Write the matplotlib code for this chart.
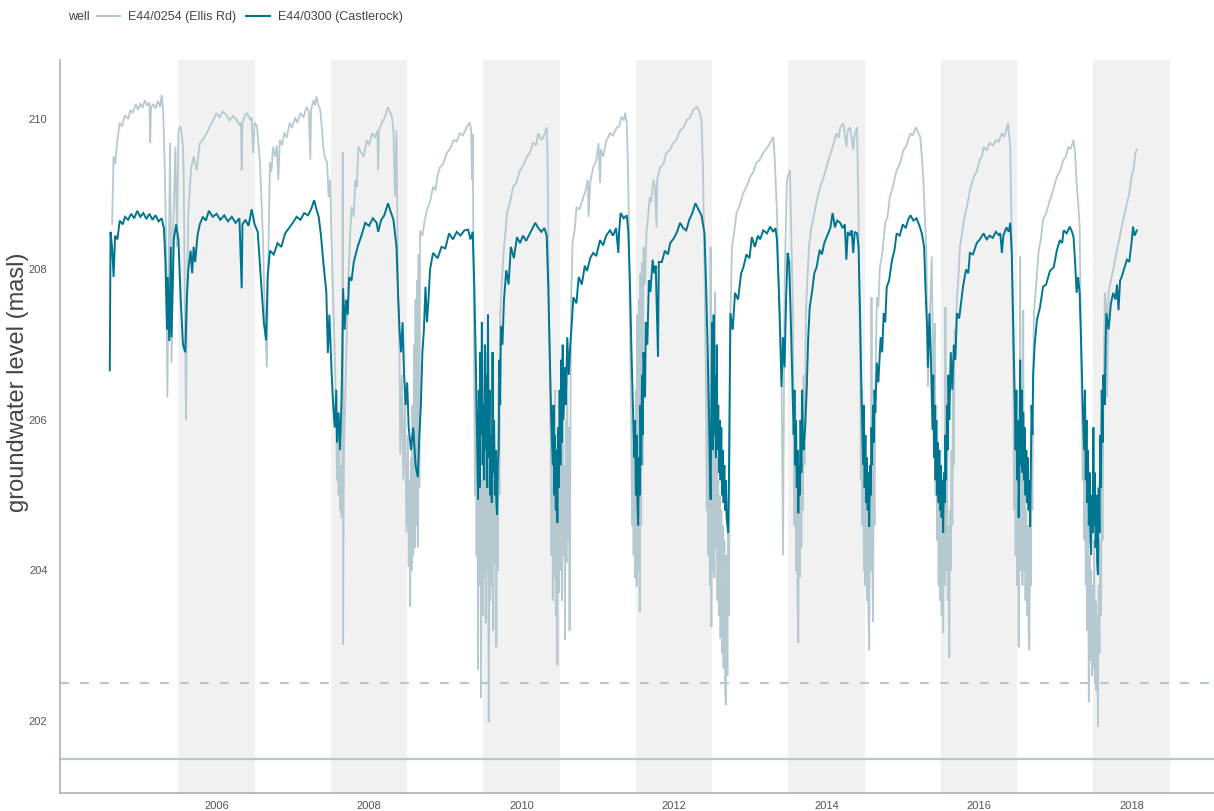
import matplotlib

matplotlib.use("Agg")
import matplotlib.pyplot as plt
from matplotlib.lines import Line2D

plt.rcParams["font.family"] = ["Liberation Sans", "DejaVu Sans"]

CASTLEROCK = [
    (2004.60, 206.66), (2004.61, 208.50), (2004.63, 208.30), (2004.65, 207.90), (2004.67, 208.45),
    (2004.70, 208.40), (2004.73, 208.65), (2004.77, 208.60), (2004.80, 208.70), (2004.84, 208.66),
    (2004.88, 208.74), (2004.92, 208.68), (2004.96, 208.78), (2005.00, 208.70), (2005.04, 208.75),
    (2005.08, 208.67), (2005.12, 208.74), (2005.16, 208.66), (2005.20, 208.72), (2005.24, 208.64),
    (2005.28, 208.68), (2005.31, 208.55), (2005.33, 208.10), (2005.35, 207.20), (2005.36, 207.90),
    (2005.38, 207.05), (2005.40, 208.30), (2005.41, 207.10), (2005.44, 208.40), (2005.47, 208.60),
    (2005.50, 208.40), (2005.53, 207.60), (2005.56, 207.00), (2005.59, 206.90), (2005.61, 207.60),
    (2005.63, 208.00), (2005.66, 208.25), (2005.68, 207.95), (2005.70, 208.30), (2005.72, 208.10),
    (2005.75, 208.45), (2005.78, 208.60), (2005.82, 208.70), (2005.86, 208.65), (2005.90, 208.78),
    (2005.95, 208.70), (2006.00, 208.74), (2006.05, 208.66), (2006.10, 208.72), (2006.15, 208.64),
    (2006.20, 208.70), (2006.25, 208.62), (2006.30, 208.68), (2006.33, 207.75), (2006.34, 208.60),
    (2006.38, 208.66), (2006.42, 208.58), (2006.46, 208.80), (2006.50, 208.60), (2006.54, 208.50),
    (2006.58, 207.90), (2006.62, 207.30), (2006.65, 207.06), (2006.67, 207.90), (2006.70, 208.25),
    (2006.75, 208.20), (2006.80, 208.35), (2006.85, 208.30), (2006.90, 208.48), (2006.95, 208.55),
    (2007.00, 208.62), (2007.05, 208.70), (2007.10, 208.66), (2007.15, 208.75), (2007.20, 208.72),
    (2007.24, 208.80), (2007.28, 208.92), (2007.31, 208.80), (2007.34, 208.70), (2007.37, 208.45),
    (2007.40, 208.10), (2007.44, 207.70), (2007.46, 206.89), (2007.48, 207.40), (2007.51, 206.60),
    (2007.53, 206.20), (2007.55, 205.90), (2007.57, 206.40), (2007.58, 205.70), (2007.60, 206.10),
    (2007.62, 205.60), (2007.64, 206.30), (2007.65, 206.90), (2007.66, 207.75), (2007.68, 207.20),
    (2007.70, 207.60), (2007.72, 207.40), (2007.74, 207.90), (2007.77, 207.85), (2007.80, 208.10),
    (2007.85, 208.30), (2007.90, 208.45), (2007.95, 208.62), (2008.00, 208.58), (2008.05, 208.68),
    (2008.10, 208.62), (2008.12, 208.50), (2008.16, 208.66), (2008.20, 208.72), (2008.25, 208.88),
    (2008.28, 208.78), (2008.32, 208.66), (2008.36, 208.30), (2008.38, 207.69), (2008.40, 207.20),
    (2008.42, 206.90), (2008.44, 207.30), (2008.46, 206.60), (2008.48, 206.20), (2008.50, 206.50),
    (2008.52, 205.90), (2008.55, 205.60), (2008.58, 205.90), (2008.61, 205.40), (2008.64, 205.24),
    (2008.66, 205.80), (2008.68, 206.20), (2008.70, 206.90), (2008.72, 207.20), (2008.74, 207.77),
    (2008.76, 207.30), (2008.78, 207.60), (2008.80, 208.00), (2008.84, 208.22), (2008.90, 208.15),
    (2008.95, 208.30), (2009.00, 208.28), (2009.05, 208.48), (2009.10, 208.40), (2009.15, 208.50),
    (2009.20, 208.45), (2009.25, 208.52), (2009.30, 208.53), (2009.33, 208.40), (2009.36, 208.50),
    (2009.38, 207.80), (2009.40, 206.80), (2009.42, 205.60), (2009.43, 204.94), (2009.44, 206.40),
    (2009.45, 205.10), (2009.46, 206.90), (2009.47, 205.80), (2009.48, 207.30), (2009.49, 205.40),
    (2009.50, 206.20), (2009.51, 205.20), (2009.52, 207.00), (2009.53, 205.60), (2009.54, 206.60),
    (2009.55, 205.10), (2009.56, 207.40), (2009.57, 205.50), (2009.58, 206.40), (2009.59, 205.00),
    (2009.60, 205.80), (2009.61, 204.90), (2009.62, 206.90), (2009.63, 205.30), (2009.64, 206.00),
    (2009.65, 205.00), (2009.66, 205.60), (2009.67, 204.90), (2009.68, 204.74), (2009.69, 205.40),
    (2009.70, 205.60), (2009.71, 206.80), (2009.72, 206.20), (2009.73, 207.25), (2009.75, 207.00),
    (2009.77, 207.60), (2009.80, 207.99), (2009.83, 207.80), (2009.86, 208.30), (2009.90, 208.15),
    (2009.94, 208.43), (2009.98, 208.35), (2010.02, 208.45), (2010.06, 208.38), (2010.12, 208.50),
    (2010.18, 208.62), (2010.22, 208.55), (2010.26, 208.50), (2010.30, 208.55), (2010.33, 208.45),
    (2010.35, 207.80), (2010.37, 206.90), (2010.39, 206.00), (2010.41, 205.40), (2010.42, 206.20),
    (2010.43, 205.00), (2010.44, 205.80), (2010.45, 204.80), (2010.46, 205.60), (2010.47, 204.63),
    (2010.48, 205.90), (2010.49, 205.10), (2010.50, 206.40), (2010.51, 205.40), (2010.52, 206.80),
    (2010.53, 205.70), (2010.54, 207.00), (2010.55, 206.00), (2010.57, 206.70), (2010.58, 206.20),
    (2010.60, 207.10), (2010.62, 206.60), (2010.64, 207.00), (2010.66, 207.30), (2010.68, 207.63),
    (2010.72, 207.55), (2010.75, 207.90), (2010.79, 207.80), (2010.83, 208.05), (2010.86, 207.98),
    (2010.90, 208.15), (2010.94, 208.22), (2010.98, 208.18), (2011.03, 208.39), (2011.07, 208.32),
    (2011.11, 208.45), (2011.16, 208.52), (2011.20, 208.45), (2011.24, 208.55), (2011.27, 208.22),
    (2011.28, 208.50), (2011.30, 208.75), (2011.34, 208.68), (2011.38, 208.72), (2011.40, 208.52),
    (2011.42, 207.90), (2011.44, 207.00), (2011.46, 206.20), (2011.48, 205.50), (2011.49, 206.00),
    (2011.50, 205.00), (2011.51, 205.80), (2011.52, 204.90), (2011.53, 204.60), (2011.54, 205.50),
    (2011.55, 205.00), (2011.56, 206.20), (2011.57, 205.40), (2011.58, 206.60), (2011.59, 205.80),
    (2011.60, 206.90), (2011.62, 206.30), (2011.63, 207.30), (2011.65, 207.00), (2011.67, 207.86),
    (2011.69, 207.70), (2011.72, 208.13), (2011.74, 207.95), (2011.76, 208.05), (2011.79, 206.84),
    (2011.80, 208.10), (2011.84, 208.10), (2011.88, 208.25), (2011.92, 208.20), (2011.95, 208.35),
    (2012.00, 208.42), (2012.04, 208.50), (2012.08, 208.62), (2012.12, 208.55), (2012.16, 208.52),
    (2012.20, 208.66), (2012.24, 208.75), (2012.28, 208.88), (2012.32, 208.80), (2012.36, 208.72),
    (2012.40, 208.48), (2012.42, 207.80), (2012.44, 207.00), (2012.46, 206.00), (2012.47, 205.40),
    (2012.48, 204.94), (2012.49, 206.20), (2012.50, 207.30), (2012.51, 205.60), (2012.52, 207.40),
    (2012.53, 205.80), (2012.54, 206.60), (2012.55, 205.50), (2012.56, 207.00), (2012.57, 205.60),
    (2012.58, 206.20), (2012.59, 205.30), (2012.60, 206.00), (2012.61, 205.20), (2012.62, 205.90),
    (2012.63, 205.00), (2012.64, 205.60), (2012.65, 204.90), (2012.66, 205.40), (2012.67, 204.80),
    (2012.68, 205.20), (2012.69, 204.70), (2012.70, 204.60), (2012.71, 204.50), (2012.72, 205.20),
    (2012.73, 206.40), (2012.74, 207.42), (2012.77, 207.20), (2012.80, 207.69), (2012.84, 207.60),
    (2012.88, 207.95), (2012.91, 208.03), (2012.95, 208.20), (2012.99, 208.15), (2013.02, 208.43),
    (2013.06, 208.30), (2013.10, 208.45), (2013.13, 208.40), (2013.17, 208.52), (2013.22, 208.48),
    (2013.26, 208.57), (2013.30, 208.50), (2013.33, 208.55), (2013.35, 208.40), (2013.37, 207.86),
    (2013.39, 207.20), (2013.41, 206.44), (2013.43, 207.10), (2013.45, 206.70), (2013.47, 207.60),
    (2013.49, 208.22), (2013.51, 208.10), (2013.53, 207.40), (2013.55, 206.60), (2013.57, 205.80),
    (2013.58, 206.40), (2013.59, 205.40), (2013.60, 206.00), (2013.61, 205.10), (2013.62, 205.60),
    (2013.63, 204.76), (2013.64, 205.40), (2013.65, 205.00), (2013.66, 206.00), (2013.67, 205.30),
    (2013.68, 206.40), (2013.69, 205.80), (2013.70, 205.60), (2013.72, 205.90), (2013.74, 206.40),
    (2013.76, 207.10), (2013.78, 207.50), (2013.81, 207.70), (2013.84, 207.95), (2013.87, 208.03),
    (2013.91, 208.26), (2013.94, 208.20), (2013.97, 208.35), (2014.01, 208.45), (2014.05, 208.55),
    (2014.08, 208.75), (2014.11, 208.56), (2014.14, 208.65), (2014.18, 208.62), (2014.21, 208.55),
    (2014.24, 208.60), (2014.26, 208.13), (2014.28, 208.50), (2014.31, 208.45), (2014.33, 208.52),
    (2014.35, 208.22), (2014.37, 208.50), (2014.40, 208.48), (2014.42, 208.30), (2014.44, 207.40),
    (2014.46, 206.30), (2014.48, 205.40), (2014.49, 206.20), (2014.50, 205.10), (2014.51, 205.80),
    (2014.52, 204.90), (2014.53, 205.50), (2014.54, 204.80), (2014.55, 205.30), (2014.56, 204.58),
    (2014.57, 205.40), (2014.58, 205.00), (2014.59, 205.90), (2014.60, 205.40), (2014.61, 206.20),
    (2014.62, 205.70), (2014.63, 206.40), (2014.64, 206.10), (2014.66, 206.76), (2014.68, 206.50),
    (2014.71, 207.10), (2014.73, 206.90), (2014.75, 207.42), (2014.77, 207.30), (2014.79, 207.77),
    (2014.82, 207.85), (2014.86, 208.13), (2014.89, 208.25), (2014.92, 208.48), (2014.96, 208.45),
    (2015.00, 208.60), (2015.04, 208.55), (2015.07, 208.66), (2015.10, 208.72), (2015.14, 208.65),
    (2015.18, 208.68), (2015.22, 208.58), (2015.25, 208.48), (2015.28, 208.30), (2015.30, 207.69),
    (2015.32, 207.20), (2015.33, 206.70), (2015.35, 207.42), (2015.37, 206.80), (2015.39, 205.87),
    (2015.40, 206.60), (2015.41, 205.50), (2015.42, 206.20), (2015.43, 205.20), (2015.44, 206.00),
    (2015.45, 205.00), (2015.46, 205.70), (2015.47, 204.90), (2015.48, 205.60), (2015.49, 204.80),
    (2015.50, 205.40), (2015.51, 204.70), (2015.52, 205.20), (2015.53, 204.50), (2015.54, 205.30),
    (2015.55, 204.90), (2015.56, 205.80), (2015.57, 205.20), (2015.58, 206.20), (2015.59, 205.60),
    (2015.60, 206.60), (2015.61, 206.00), (2015.63, 206.90), (2015.65, 206.40), (2015.67, 207.00),
    (2015.69, 206.80), (2015.71, 207.42), (2015.74, 207.35), (2015.77, 207.60), (2015.79, 207.77),
    (2015.83, 208.00), (2015.86, 207.95), (2015.88, 208.22), (2015.92, 208.20), (2015.97, 208.35),
    (2016.01, 208.40), (2016.06, 208.48), (2016.10, 208.40), (2016.14, 208.45), (2016.18, 208.42),
    (2016.22, 208.50), (2016.26, 208.46), (2016.28, 208.48), (2016.30, 208.22), (2016.32, 208.45),
    (2016.36, 208.56), (2016.39, 208.50), (2016.41, 208.62), (2016.43, 208.20), (2016.45, 207.20),
    (2016.47, 206.20), (2016.48, 205.60), (2016.49, 206.40), (2016.50, 205.20), (2016.51, 206.00),
    (2016.52, 204.70), (2016.53, 205.50), (2016.54, 206.80), (2016.55, 205.40), (2016.56, 206.40),
    (2016.57, 205.30), (2016.58, 206.10), (2016.59, 205.20), (2016.60, 205.90), (2016.61, 205.00),
    (2016.62, 205.60), (2016.63, 204.90), (2016.64, 205.50), (2016.65, 204.80), (2016.66, 205.20),
    (2016.67, 204.58), (2016.68, 205.40), (2016.69, 206.20), (2016.70, 205.80), (2016.71, 206.60),
    (2016.73, 207.00), (2016.76, 207.33), (2016.80, 207.50), (2016.84, 207.77), (2016.88, 207.80),
    (2016.93, 207.98), (2016.98, 208.03), (2017.02, 208.25), (2017.06, 208.39), (2017.09, 208.35),
    (2017.11, 208.52), (2017.15, 208.48), (2017.19, 208.57), (2017.22, 208.50), (2017.24, 208.43),
    (2017.26, 208.10), (2017.28, 207.69), (2017.30, 207.90), (2017.32, 207.69), (2017.34, 207.00),
    (2017.36, 206.20), (2017.38, 205.60), (2017.39, 206.40), (2017.40, 205.20), (2017.41, 206.00),
    (2017.42, 204.90), (2017.43, 205.60), (2017.44, 204.60), (2017.45, 205.30), (2017.46, 204.40),
    (2017.47, 204.21), (2017.48, 205.00), (2017.49, 204.50), (2017.50, 205.90), (2017.51, 204.60),
    (2017.52, 205.30), (2017.53, 204.30), (2017.54, 205.00), (2017.55, 204.10), (2017.56, 203.94),
    (2017.57, 205.10), (2017.58, 204.50), (2017.59, 205.80), (2017.60, 205.10), (2017.61, 206.40),
    (2017.62, 205.70), (2017.63, 206.60), (2017.65, 206.20), (2017.66, 207.00), (2017.67, 207.42),
    (2017.70, 207.20), (2017.73, 207.55), (2017.76, 207.69), (2017.79, 207.60), (2017.81, 207.80),
    (2017.83, 207.46), (2017.85, 207.85), (2017.87, 207.90), (2017.90, 208.00), (2017.94, 208.13),
    (2017.97, 208.10), (2018.00, 208.35), (2018.02, 208.57), (2018.04, 208.45), (2018.07, 208.52),
]

ELLIS_RD = [
    (2004.63, 208.60), (2004.65, 209.50), (2004.67, 209.40), (2004.70, 209.72), (2004.73, 209.95),
    (2004.76, 209.90), (2004.80, 210.05), (2004.84, 210.00), (2004.87, 210.12), (2004.90, 210.08),
    (2004.94, 210.20), (2004.97, 210.12), (2005.00, 210.21), (2005.03, 210.15), (2005.06, 210.25),
    (2005.09, 210.18), (2005.12, 210.22), (2005.13, 209.68), (2005.14, 210.15), (2005.17, 210.20),
    (2005.20, 210.14), (2005.23, 210.24), (2005.26, 210.16), (2005.28, 210.32), (2005.30, 210.10),
    (2005.32, 209.40), (2005.34, 208.30), (2005.355, 206.30), (2005.37, 207.80), (2005.39, 209.68),
    (2005.40, 208.60), (2005.41, 206.76), (2005.43, 208.50), (2005.46, 209.63), (2005.48, 208.30),
    (2005.50, 209.85), (2005.53, 209.90), (2005.56, 209.63), (2005.57, 209.19), (2005.585, 207.50),
    (2005.60, 206.00), (2005.615, 207.80), (2005.63, 208.75), (2005.65, 209.10), (2005.67, 209.36),
    (2005.70, 209.50), (2005.74, 209.32), (2005.78, 209.68), (2005.82, 209.72), (2005.87, 209.81),
    (2005.91, 209.90), (2005.96, 209.99), (2006.00, 210.08), (2006.04, 210.02), (2006.08, 210.10),
    (2006.13, 210.05), (2006.17, 209.98), (2006.22, 210.04), (2006.26, 209.99), (2006.30, 209.92),
    (2006.32, 209.95), (2006.33, 209.32), (2006.34, 209.95), (2006.37, 210.04), (2006.40, 210.08),
    (2006.44, 209.99), (2006.46, 210.02), (2006.48, 209.55), (2006.50, 209.95), (2006.53, 209.90),
    (2006.57, 209.42), (2006.61, 208.39), (2006.63, 207.50), (2006.66, 206.70), (2006.68, 208.20),
    (2006.70, 209.42), (2006.72, 209.30), (2006.74, 209.63), (2006.77, 209.50), (2006.79, 209.65),
    (2006.81, 209.19), (2006.83, 209.72), (2006.86, 209.65), (2006.89, 209.82), (2006.92, 209.75),
    (2006.96, 209.95), (2006.99, 209.88), (2007.03, 210.02), (2007.06, 209.95), (2007.10, 210.08),
    (2007.14, 210.02), (2007.18, 210.16), (2007.21, 210.10), (2007.23, 209.46), (2007.24, 210.12),
    (2007.27, 210.25), (2007.29, 210.18), (2007.31, 210.30), (2007.33, 210.20), (2007.36, 210.12),
    (2007.38, 209.90), (2007.40, 209.63), (2007.42, 209.50), (2007.45, 209.42), (2007.47, 208.96),
    (2007.49, 209.20), (2007.51, 208.30), (2007.53, 207.60), (2007.55, 206.90), (2007.57, 206.00),
    (2007.58, 205.20), (2007.59, 205.90), (2007.60, 205.00), (2007.61, 205.60), (2007.62, 204.80),
    (2007.63, 205.40), (2007.64, 204.70), (2007.65, 205.30), (2007.655, 209.56), (2007.66, 203.01),
    (2007.67, 205.50), (2007.69, 206.40), (2007.71, 207.20), (2007.73, 207.90), (2007.75, 208.40),
    (2007.77, 208.83), (2007.80, 208.70), (2007.82, 209.19), (2007.84, 209.10), (2007.86, 209.63),
    (2007.90, 209.55), (2007.93, 209.50), (2007.97, 209.72), (2008.00, 209.65), (2008.04, 209.81),
    (2008.08, 209.75), (2008.11, 209.85), (2008.12, 209.32), (2008.13, 209.85), (2008.17, 209.95),
    (2008.21, 210.03), (2008.25, 210.16), (2008.28, 210.08), (2008.30, 210.03), (2008.32, 209.85),
    (2008.34, 208.97), (2008.36, 209.85), (2008.38, 207.77), (2008.40, 206.80), (2008.41, 205.54),
    (2008.43, 206.60), (2008.45, 205.20), (2008.47, 206.30), (2008.49, 204.50), (2008.51, 205.80),
    (2008.52, 204.05), (2008.53, 205.20), (2008.54, 203.52), (2008.55, 205.50), (2008.56, 204.00),
    (2008.57, 206.20), (2008.58, 204.20), (2008.59, 207.00), (2008.60, 204.30), (2008.61, 207.60),
    (2008.62, 204.60), (2008.63, 207.86), (2008.64, 204.31), (2008.65, 208.20), (2008.66, 205.10),
    (2008.67, 208.52), (2008.70, 208.45), (2008.73, 208.65), (2008.76, 208.79), (2008.80, 208.90),
    (2008.84, 209.10), (2008.87, 209.05), (2008.90, 209.25), (2008.93, 209.36), (2008.97, 209.40),
    (2009.02, 209.55), (2009.06, 209.60), (2009.11, 209.72), (2009.15, 209.70), (2009.19, 209.81),
    (2009.23, 209.78), (2009.28, 209.89), (2009.32, 209.95), (2009.34, 209.85), (2009.35, 209.19),
    (2009.36, 209.80), (2009.37, 208.00), (2009.38, 206.50), (2009.39, 205.00), (2009.40, 206.60),
    (2009.41, 204.20), (2009.42, 206.00), (2009.43, 202.68), (2009.44, 205.50), (2009.45, 203.80),
    (2009.46, 206.80), (2009.47, 202.31), (2009.48, 205.20), (2009.49, 203.40), (2009.50, 206.20),
    (2009.51, 203.90), (2009.52, 205.60), (2009.53, 203.30), (2009.54, 206.90), (2009.55, 204.00),
    (2009.56, 205.20), (2009.57, 201.99), (2009.58, 205.80), (2009.59, 203.60), (2009.60, 206.40),
    (2009.61, 203.80), (2009.62, 205.40), (2009.63, 203.20), (2009.64, 206.00), (2009.65, 204.10),
    (2009.66, 205.20), (2009.67, 202.98), (2009.68, 205.60), (2009.69, 204.00), (2009.70, 206.50),
    (2009.71, 205.00), (2009.72, 207.40), (2009.74, 207.80), (2009.77, 208.30), (2009.79, 208.50),
    (2009.81, 208.75), (2009.85, 208.90), (2009.89, 209.10), (2009.93, 209.15), (2009.98, 209.32),
    (2010.02, 209.38), (2010.07, 209.50), (2010.11, 209.55), (2010.15, 209.68), (2010.19, 209.65),
    (2010.22, 209.81), (2010.26, 209.72), (2010.29, 209.76), (2010.33, 209.89), (2010.34, 209.60),
    (2010.36, 207.50), (2010.38, 205.80), (2010.39, 204.20), (2010.40, 206.20), (2010.41, 203.60),
    (2010.42, 205.60), (2010.43, 203.90), (2010.44, 206.40), (2010.45, 203.40), (2010.46, 205.20),
    (2010.47, 202.74), (2010.48, 205.80), (2010.49, 203.70), (2010.50, 206.30), (2010.51, 204.00),
    (2010.52, 205.60), (2010.53, 203.60), (2010.54, 206.60), (2010.55, 204.20), (2010.56, 205.40),
    (2010.57, 203.08), (2010.58, 206.00), (2010.59, 204.10), (2010.60, 206.80), (2010.61, 204.40),
    (2010.62, 205.90), (2010.63, 203.20), (2010.65, 207.60), (2010.67, 208.35), (2010.70, 208.55),
    (2010.72, 208.83), (2010.76, 208.80), (2010.81, 208.96), (2010.84, 209.05), (2010.87, 209.19),
    (2010.88, 208.70), (2010.90, 209.15), (2010.94, 209.36), (2010.98, 209.45), (2011.01, 209.68),
    (2011.03, 209.15), (2011.04, 209.60), (2011.07, 209.50), (2011.11, 209.70), (2011.16, 209.81),
    (2011.20, 209.78), (2011.25, 209.89), (2011.28, 209.90), (2011.31, 210.03), (2011.34, 209.98),
    (2011.36, 210.08), (2011.38, 209.95), (2011.40, 209.19), (2011.42, 207.42), (2011.44, 205.80),
    (2011.45, 204.60), (2011.46, 206.00), (2011.47, 204.20), (2011.48, 205.60), (2011.49, 203.90),
    (2011.50, 206.40), (2011.51, 203.78), (2011.52, 207.40), (2011.53, 204.00), (2011.54, 207.60),
    (2011.55, 203.45), (2011.56, 207.95), (2011.57, 204.60), (2011.58, 208.10), (2011.59, 205.40),
    (2011.60, 208.30), (2011.62, 207.80), (2011.64, 208.52), (2011.66, 208.70), (2011.68, 208.96),
    (2011.70, 208.90), (2011.73, 209.19), (2011.75, 209.10), (2011.77, 208.56), (2011.78, 209.20),
    (2011.82, 209.36), (2011.86, 209.40), (2011.90, 209.55), (2011.94, 209.58), (2011.99, 209.68),
    (2012.03, 209.72), (2012.08, 209.85), (2012.12, 209.88), (2012.17, 209.99), (2012.21, 210.02),
    (2012.25, 210.12), (2012.30, 210.16), (2012.33, 210.10), (2012.36, 209.99), (2012.38, 209.32),
    (2012.40, 208.00), (2012.42, 206.40), (2012.43, 204.80), (2012.44, 206.80), (2012.45, 204.20),
    (2012.46, 206.20), (2012.47, 203.80), (2012.48, 208.30), (2012.49, 203.25), (2012.50, 206.00),
    (2012.51, 204.00), (2012.52, 205.60), (2012.53, 203.90), (2012.54, 207.70), (2012.55, 204.30),
    (2012.56, 205.50), (2012.57, 203.60), (2012.58, 205.20), (2012.59, 203.40), (2012.60, 205.00),
    (2012.61, 203.10), (2012.62, 204.80), (2012.63, 202.90), (2012.64, 204.60), (2012.65, 202.70),
    (2012.66, 204.40), (2012.67, 202.40), (2012.68, 202.21), (2012.69, 204.20), (2012.70, 202.60),
    (2012.71, 204.80), (2012.72, 203.40), (2012.73, 205.60), (2012.74, 207.42), (2012.76, 208.30),
    (2012.79, 208.50), (2012.82, 208.75), (2012.86, 208.85), (2012.91, 209.02), (2012.95, 209.10),
    (2013.00, 209.23), (2013.04, 209.30), (2013.08, 209.42), (2013.12, 209.45), (2013.17, 209.55),
    (2013.21, 209.60), (2013.26, 209.68), (2013.30, 209.76), (2013.32, 209.50), (2013.35, 208.75),
    (2013.37, 207.90), (2013.39, 207.42), (2013.41, 206.60), (2013.43, 204.20), (2013.45, 207.80),
    (2013.48, 209.19), (2013.52, 209.32), (2013.54, 208.40), (2013.56, 207.42), (2013.57, 205.60),
    (2013.58, 204.60), (2013.59, 206.20), (2013.60, 204.00), (2013.61, 205.60), (2013.62, 203.60),
    (2013.63, 203.04), (2013.64, 205.20), (2013.65, 203.90), (2013.66, 205.80), (2013.67, 204.30),
    (2013.68, 206.40), (2013.69, 204.80), (2013.70, 206.60), (2013.71, 205.40), (2013.73, 207.42),
    (2013.75, 207.90), (2013.77, 208.30), (2013.80, 208.55), (2013.84, 208.75), (2013.88, 208.95),
    (2013.92, 209.10), (2013.96, 209.22), (2014.00, 209.36), (2014.04, 209.50), (2014.09, 209.66),
    (2014.13, 209.81), (2014.16, 209.75), (2014.18, 209.89), (2014.22, 209.94), (2014.24, 209.80),
    (2014.26, 209.63), (2014.28, 209.85), (2014.31, 209.89), (2014.33, 209.75), (2014.35, 209.59),
    (2014.37, 209.80), (2014.40, 209.89), (2014.42, 208.75), (2014.44, 206.80), (2014.45, 205.20),
    (2014.46, 206.40), (2014.47, 204.60), (2014.48, 205.80), (2014.49, 204.00), (2014.50, 205.40),
    (2014.51, 203.80), (2014.52, 205.00), (2014.53, 203.60), (2014.54, 204.80), (2014.55, 203.40),
    (2014.56, 202.94), (2014.57, 204.60), (2014.58, 204.00), (2014.59, 207.63), (2014.60, 204.20),
    (2014.61, 203.32), (2014.62, 205.40), (2014.63, 204.60), (2014.64, 206.40), (2014.66, 207.63),
    (2014.68, 207.50), (2014.70, 208.03), (2014.73, 208.20), (2014.77, 208.62), (2014.80, 208.70),
    (2014.83, 208.96), (2014.87, 209.10), (2014.92, 209.32), (2014.96, 209.40), (2015.01, 209.59),
    (2015.05, 209.65), (2015.10, 209.81), (2015.13, 209.78), (2015.17, 209.89), (2015.20, 209.82),
    (2015.23, 209.76), (2015.25, 209.50), (2015.27, 209.19), (2015.29, 208.70), (2015.31, 208.22),
    (2015.33, 206.44), (2015.35, 207.20), (2015.38, 208.17), (2015.40, 206.50), (2015.42, 207.29),
    (2015.43, 205.00), (2015.44, 206.20), (2015.45, 204.40), (2015.46, 205.60), (2015.47, 203.80),
    (2015.48, 205.20), (2015.49, 203.60), (2015.50, 204.80), (2015.51, 203.40), (2015.52, 204.60),
    (2015.53, 203.17), (2015.54, 205.00), (2015.55, 203.80), (2015.56, 207.50), (2015.57, 204.00),
    (2015.58, 205.20), (2015.59, 203.60), (2015.60, 204.60), (2015.61, 202.84), (2015.62, 204.80),
    (2015.63, 204.00), (2015.64, 205.60), (2015.65, 204.60), (2015.66, 206.40), (2015.67, 205.40),
    (2015.68, 207.20), (2015.69, 207.00), (2015.71, 207.63), (2015.73, 207.90), (2015.75, 208.30),
    (2015.78, 208.50), (2015.81, 208.70), (2015.84, 208.83), (2015.88, 209.05), (2015.93, 209.23),
    (2015.97, 209.30), (2016.01, 209.46), (2016.04, 209.50), (2016.06, 209.63), (2016.10, 209.58),
    (2016.14, 209.68), (2016.18, 209.65), (2016.23, 209.72), (2016.26, 209.70), (2016.30, 209.81),
    (2016.33, 209.76), (2016.36, 209.85), (2016.38, 209.95), (2016.41, 209.63), (2016.43, 208.30),
    (2016.45, 206.40), (2016.46, 204.80), (2016.47, 206.00), (2016.48, 204.20), (2016.49, 205.40),
    (2016.50, 203.80), (2016.51, 205.00), (2016.52, 202.98), (2016.53, 205.20), (2016.54, 208.17),
    (2016.55, 204.00), (2016.56, 205.40), (2016.57, 203.80), (2016.58, 207.46), (2016.59, 204.00),
    (2016.60, 205.20), (2016.61, 203.60), (2016.62, 204.80), (2016.63, 203.40), (2016.64, 204.60),
    (2016.65, 203.20), (2016.66, 202.94), (2016.67, 204.60), (2016.68, 203.80), (2016.69, 205.60),
    (2016.70, 204.80), (2016.71, 206.40), (2016.72, 207.42), (2016.75, 207.80), (2016.78, 208.22),
    (2016.81, 208.40), (2016.84, 208.66), (2016.88, 208.75), (2016.93, 208.92), (2016.97, 209.05),
    (2017.02, 209.23), (2017.06, 209.30), (2017.11, 209.46), (2017.14, 209.50), (2017.17, 209.63),
    (2017.20, 209.60), (2017.24, 209.72), (2017.26, 209.55), (2017.28, 209.15), (2017.30, 208.90),
    (2017.32, 208.56), (2017.34, 206.80), (2017.36, 205.20), (2017.37, 206.00), (2017.38, 204.40),
    (2017.39, 205.60), (2017.40, 203.80), (2017.41, 205.00), (2017.42, 203.20), (2017.43, 204.60),
    (2017.44, 202.25), (2017.45, 204.20), (2017.46, 202.80), (2017.47, 204.00), (2017.48, 202.60),
    (2017.49, 203.80), (2017.50, 202.70), (2017.51, 204.40), (2017.52, 202.50), (2017.53, 203.60),
    (2017.54, 202.40), (2017.55, 203.40), (2017.56, 201.92), (2017.57, 203.80), (2017.58, 202.90),
    (2017.59, 204.40), (2017.60, 203.40), (2017.61, 205.20), (2017.62, 204.40), (2017.63, 206.00),
    (2017.64, 206.80), (2017.65, 207.69), (2017.67, 207.50), (2017.68, 206.30), (2017.70, 207.70),
    (2017.74, 207.90), (2017.77, 208.05), (2017.81, 208.26), (2017.84, 208.40), (2017.87, 208.56),
    (2017.90, 208.70), (2017.94, 208.88), (2017.97, 209.00), (2018.00, 209.23), (2018.03, 209.35),
    (2018.05, 209.55), (2018.07, 209.59),
]

# Reference levels drawn across the whole record (masl)
TRIGGER_LEVEL = 202.5
BASE_LEVEL = 201.5

# Centre year of each shaded band (band covers July to July)
SHADED_YEARS = [2006, 2008, 2010, 2012, 2014, 2016, 2018]
X_TICKS = [2006, 2008, 2010, 2012, 2014, 2016, 2018]
Y_TICKS = [202, 204, 206, 208, 210]

WELLS = ["E44/0254 (Ellis Rd)", "E44/0300 (Castlerock)"]
LIGHT = "#b7c9d0"
TEAL = "#00758f"
AXIS_GREY = "#b0b0b0"
TEXT_GREY = "#555555"

W, H = 1214, 811
fig = plt.figure(figsize=(W / 100, H / 100), dpi=100)
ax = fig.add_axes([60 / W, 18 / H, 1154 / W, 733 / H])

for yr in SHADED_YEARS:
    ax.axvspan(yr - 0.5, yr + 0.5, color="#f1f1f1", lw=0, zorder=0)

ellis_t, ellis_v = zip(*ELLIS_RD)
castle_t, castle_v = zip(*CASTLEROCK)
ax.plot(ellis_t, ellis_v, color=LIGHT, lw=1.3, zorder=2, solid_joinstyle="miter")
ax.plot(castle_t, castle_v, color=TEAL, lw=1.4, zorder=3, solid_joinstyle="miter")

ax.axhline(TRIGGER_LEVEL, color=LIGHT, lw=1.6, ls=(0, (4, 5)), zorder=1)
ax.axhline(BASE_LEVEL, color=LIGHT, lw=1.6, zorder=1)

ax.set_xlim(2003.947, 2019.082)
ax.set_ylim(201.043, 210.784)
ax.set_xticks(X_TICKS)
ax.set_xticklabels([str(t) for t in X_TICKS])
ax.set_yticks(Y_TICKS)
ax.set_yticklabels([str(t) for t in Y_TICKS])
ax.tick_params(axis="both", length=0, labelsize=8, labelcolor=TEXT_GREY)
ax.tick_params(axis="x", pad=6)
ax.tick_params(axis="y", pad=9)

for side in ("top", "right"):
    ax.spines[side].set_visible(False)
for side in ("left", "bottom"):
    ax.spines[side].set_color(AXIS_GREY)
    ax.spines[side].set_linewidth(1.2)

fig.text(18 / W, 1 - 382 / H, "groundwater level (masl)", rotation=90,
         ha="center", va="center", fontsize=17, color="#444444")

fig.text(68 / W, 1 - 17 / H, "well", ha="left", va="center", fontsize=9, color="#444444")
handles = [Line2D([], [], color=LIGHT, lw=1.5), Line2D([], [], color=TEAL, lw=1.5)]
fig.legend(handles, WELLS, ncol=2, loc="center left", bbox_to_anchor=(97 / W, 1 - 17 / H),
           frameon=False, fontsize=9, labelcolor="#444444", handlelength=1.85,
           handletextpad=0.65, columnspacing=0.8, borderpad=0, borderaxespad=0)

fig.savefig("out.png", dpi=100)
